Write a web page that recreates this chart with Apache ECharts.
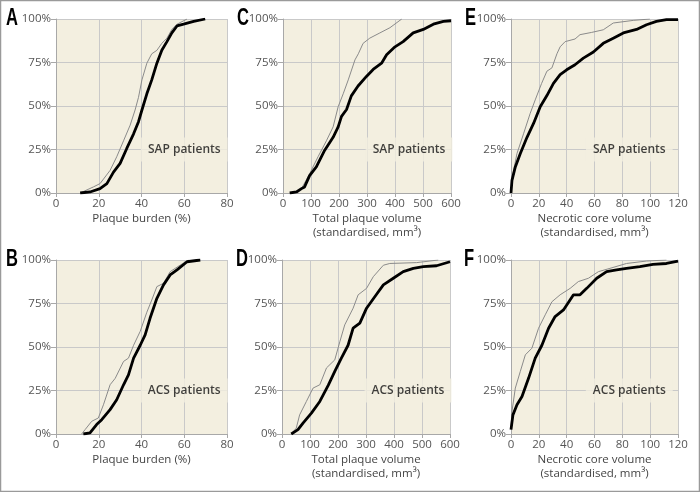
<!DOCTYPE html>
<html>
<head>
<meta charset="utf-8">
<script src="https://cdn.jsdelivr.net/npm/echarts@6/dist/echarts.min.js"></script>
<style>
html,body{margin:0;padding:0;background:#fff;}
#c{width:700px;height:492px;}
</style>
</head>
<body>
<div id="c"></div>
<script>
// ---- Data (cumulative %) ----
const panelLetters = ['A', 'C', 'E', 'B', 'D', 'F'];
const groupLabels = ['SAP patients', 'SAP patients', 'SAP patients', 'ACS patients', 'ACS patients', 'ACS patients'];
const xNames = ['Plaque burden (%)', 'Total plaque volume\n(standardised, mm³)', 'Necrotic core volume\n(standardised, mm³)',
                'Plaque burden (%)', 'Total plaque volume\n(standardised, mm³)', 'Necrotic core volume\n(standardised, mm³)'];
const xMax = [80, 600, 120, 80, 600, 120];
const xInterval = [20, 100, 20, 20, 100, 20];
const yTicks = [0, 25, 50, 75, 100];
const labelPos = [[60, 25], [450, 25], [85, 25], [60, 25], [450, 25], [85, 25]];

const aBlack = [[11.3,0],[15.9,0.6],[20.6,2.5],[23.8,5.4],[26.9,12],[30,17],[33.1,25.6],[36.3,34],[38.6,41],[40.2,47.7],[42.5,57],[44.8,65],[47.2,74.6],[49.5,82],[51.9,87],[54.2,92],[56.6,96],[59.7,97],[64.4,98.6],[69.8,100]];
const aGray = [[11.3,0],[17.5,3.5],[20.6,5.4],[25.3,13],[28.4,20.8],[31.6,30],[34.7,39],[37,47.7],[38.6,55],[40.2,65],[42.5,74.6],[44.8,80],[47.2,82],[49.5,86],[51.9,89],[54.2,94],[56.6,97],[61.3,100]];
const cBlack = [[24,0],[48,0.6],[66,2.5],[77,3.5],[95,10],[119,15],[149,24.6],[179,32],[197,38],[209,44],[227,48],[244,55.8],[268,61.5],[298,67],[322,71],[352,74.6],[370,79.4],[400,84],[429,87],[465,92],[501,94],[537,97],[573,98.6],[600,99]];
const cGray = [[24,0],[48,0.6],[66,2.5],[95,11],[125,20.8],[155,30],[179,38],[197,49.6],[215,57],[233,65],[257,76.5],[269,80],[286,86],[310,89],[346,92],[382,95],[424,100]];
const eBlack = [[0,0],[0.7,7.3],[3.1,15],[6.7,22.7],[11.5,32],[16.2,40],[21,49.6],[25.8,56],[30.5,63],[35.3,68],[40,70.8],[46,73.7],[52,77.5],[59.2,81],[66.3,86],[73.5,89],[80.7,92],[90.2,94],[97.4,96.7],[104.5,98.6],[111.7,99.6],[120,99.6]];
const eGray = [[0,0],[1.4,11],[4.3,22.7],[9,34],[13.8,45.8],[17.4,53.5],[22,63],[25.8,70],[29.4,71.9],[33,80],[35.3,84],[38.9,87],[46,88.5],[49.6,91],[58,92.3],[66.3,93.8],[73.5,97.7],[87.8,99.2],[99.8,100]];
const bBlack = [[12.8,0],[15.9,0.6],[19,5.4],[21.4,8.2],[25.3,14],[28.4,19.7],[31.6,28.3],[33.9,34],[36.3,43.6],[39.4,51],[41.7,57],[44,66.5],[47.2,78],[50.3,85.7],[53.4,91.4],[56.6,94.3],[61.3,99],[67.5,100]];
const bGray = [[12,0],[13.6,2.5],[16.7,7.3],[19.8,9.2],[22.2,16.8],[25.3,28.3],[27.7,32],[31.6,41.7],[33.9,43.6],[36.3,51],[39.4,59],[42.5,70],[44.8,77],[47.2,84.7],[50.3,86.6],[53.4,93.3],[58,97],[62,100]];
const dBlack = [[33,0],[57,2.5],[75,6.3],[105,12],[135,18.7],[165,28],[188.5,36],[212,43.6],[236,51],[254,60.8],[278,63.7],[302,72.3],[332,79],[362,85.7],[397.5,89.5],[433,93.3],[469,95.2],[505,96.2],[552,96.7],[600,99]];
const dGray = [[33,0],[51,3.4],[63,11],[87,18.7],[111,26.4],[135,28.3],[159,38],[188.5,42.6],[206.5,53],[224,62.7],[254,72.3],[272,80],[302,83.7],[326,90.4],[362,97],[385,98],[481,98.5],[558,100]];
const fBlack = [[0,2.5],[1.4,11],[4.3,16.8],[7.9,21.6],[12.6,32],[17.4,43.6],[22.2,51],[27,60.8],[31.7,67.5],[37.7,71.3],[44.9,80],[49.6,80],[54.4,83.7],[61.6,89.5],[68.7,93.3],[75.9,94.3],[83,95.2],[92.6,96.2],[102,97.5],[111.7,98],[120,99.4]];
const fGray = [[0,3.4],[0.7,13],[3.1,26.4],[6.7,36],[10.3,45.5],[15,49.3],[19.8,60.8],[24.6,68.5],[29.4,76],[35.3,80],[42.5,83.7],[48.4,87.6],[55.6,89.5],[62.8,93.3],[71.1,95.2],[83,98],[97.4,99.4],[111.7,100]];

const blackSeries = [aBlack, cBlack, eBlack, bBlack, dBlack, fBlack];
const graySeries = [aGray, cGray, eGray, bGray, dGray, fGray];

// ---- Layout ----
const gridBoxes = [
  {left: 56, top: 19, width: 171, height: 174},
  {left: 283, top: 19, width: 168, height: 174},
  {left: 511, top: 19, width: 167, height: 174},
  {left: 56, top: 260, width: 171, height: 174},
  {left: 282, top: 260, width: 168, height: 174},
  {left: 511, top: 260, width: 167, height: 174}
];
const letterPos = [[6, 7], [237, 7], [465, 7], [6, 248], [236, 248], [464, 248]];

const BG = '#f3efe0';
const GRIDC = '#c9c9c9';
const FONT = '"Open Sans", "Noto Sans", sans-serif';

const grids = [], xAxes = [], yAxes = [], series = [], graphics = [];
for (let i = 0; i < 6; i++) {
  grids.push(Object.assign({show: true, backgroundColor: BG, borderWidth: 0, containLabel: false}, gridBoxes[i]));
  xAxes.push({
    type: 'value', gridIndex: i, min: 0, max: xMax[i], interval: xInterval[i],
    name: xNames[i], nameLocation: 'middle', nameGap: 19,
    nameTextStyle: {fontFamily: FONT, fontSize: 11.5, color: '#444', lineHeight: 13.5},
    axisLine: {show: true, lineStyle: {color: '#a8a8a8', width: 1}},
    axisTick: {show: true, length: 4, lineStyle: {color: '#a8a8a8'}},
    axisLabel: {fontFamily: FONT, fontSize: 11.5, color: '#555', margin: 5},
    splitLine: {show: true, lineStyle: {color: GRIDC, width: 1}}
  });
  yAxes.push({
    type: 'value', gridIndex: i, min: 0, max: 100, interval: 25,
    axisLine: {show: true, lineStyle: {color: '#a8a8a8', width: 1}},
    axisTick: {show: true, length: 5, lineStyle: {color: '#a8a8a8'}},
    axisLabel: {fontFamily: FONT, fontSize: 11.5, color: '#555', margin: 5, formatter: '{value}%'},
    splitLine: {show: true, lineStyle: {color: GRIDC, width: 1}}
  });
  series.push({
    type: 'line', xAxisIndex: i, yAxisIndex: i, data: graySeries[i], showSymbol: false, symbol: 'none',
    lineStyle: {color: '#8a8a8a', width: 1}, z: 3, animation: false
  });
  series.push({
    type: 'line', xAxisIndex: i, yAxisIndex: i, data: blackSeries[i], showSymbol: false, symbol: 'none',
    lineStyle: {color: '#000', width: 2.8}, z: 4, animation: false
  });
  series.push({
    type: 'scatter', xAxisIndex: i, yAxisIndex: i, data: [labelPos[i]], symbolSize: 1,
    itemStyle: {color: 'rgba(0,0,0,0)'}, z: 5, silent: true, animation: false,
    label: {show: true, position: 'inside', formatter: groupLabels[i],
      fontFamily: FONT, fontSize: 12, fontWeight: 600, color: '#111',
      backgroundColor: BG, padding: [6, 7]}
  });
  graphics.push({
    type: 'text', x: letterPos[i][0], y: letterPos[i][1], scaleX: 0.72,
    style: {text: panelLetters[i], font: 'bold 23px "Liberation Sans", sans-serif', fill: '#000'}
  });
}
graphics.push({type: 'rect', shape: {x: 0.5, y: 0.5, width: 699, height: 491},
  style: {fill: 'none', stroke: '#9a9a9a', lineWidth: 1.5}, silent: true});

const chart = echarts.init(document.getElementById('c'), null, {renderer: 'canvas'});
chart.setOption({
  animation: false,
  backgroundColor: '#fff',
  grid: grids, xAxis: xAxes, yAxis: yAxes, series: series, graphic: graphics
});
</script>
</body>
</html>
